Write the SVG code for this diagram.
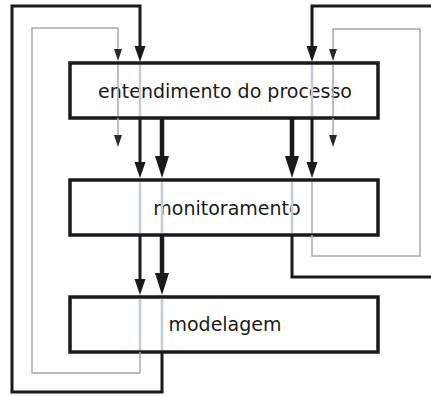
<svg xmlns="http://www.w3.org/2000/svg" width="431" height="396" viewBox="0 0 431 396">
  <style>
    .box { fill: #ffffff; stroke: #1a1a1a; stroke-width: 3.5; }
    .label { font-family: "DejaVu Sans", Verdana, sans-serif; font-size: 19px; fill: #1a1a1a; text-anchor: middle; }
    .black { fill: none; stroke: #1a1a1a; stroke-width: 3; }
    .heavy { fill: none; stroke: #1a1a1a; stroke-width: 4.5; }
    .gray { fill: none; stroke: #a8a8a8; stroke-width: 1.5; }
    .through { fill: none; stroke: #c3cbd6; stroke-width: 2.5; }
    .headB { fill: #1a1a1a; }
    .headG { fill: #2a2a2a; }
  </style>
  <defs>
    <!-- arrowheads with tip at origin, pointing down -->
    <path id="hGray" d="M0 0 L-4 -12 L4 -12 Z"/>
    <path id="hBlack" d="M0 0 L-5.5 -16 L5.5 -16 Z"/>
    <path id="hHeavy" d="M0 0 L-7 -22 L7 -22 Z"/>
  </defs>

  <g id="nodes">
    <g id="entendimento">
      <rect class="box" x="70" y="63" width="308" height="55"/>
      <text class="label" x="225" y="98">entendimento do processo</text>
    </g>
    <g id="monitoramento">
      <rect class="box" x="70" y="180" width="308" height="55"/>
      <text class="label" x="227" y="215">monitoramento</text>
    </g>
    <g id="modelagem">
      <rect class="box" x="70" y="297" width="308" height="55"/>
      <text class="label" x="225" y="331">modelagem</text>
    </g>
  </g>

  <g id="connectors">
    <!-- lines seen passing through the boxes -->
    <path class="through" d="M140 65 V116 M162 182 V233 M140 182 V233 M162 299 V350 M140 299 V350 M312 65 V116 M292 182 V233"/>
    <path class="gray" d="M118 65 V116 M333 65 V116 M312 182 V233"/>

    <!-- left outer feedback loops -->
    <path class="black" d="M162 352 V392 H12 V6 H140 V50"/>
    <path class="gray" d="M140 352 V373 H32 V28 H118 V50"/>
    <use href="#hBlack" class="headB" x="140" y="62"/>
    <use href="#hGray" class="headG" x="118" y="61"/>

    <!-- right outer feedback loops -->
    <path class="black" d="M431 6 H312 V50"/>
    <path class="black" d="M292 235 V277 H431"/>
    <path class="gray" d="M312 235 V256 H420 V29 H333 V50"/>
    <use href="#hBlack" class="headB" x="312" y="62"/>
    <use href="#hGray" class="headG" x="333" y="61"/>

    <!-- entendimento -> monitoramento -->
    <path class="gray" d="M118 118 V137"/>
    <use href="#hGray" class="headG" x="118" y="147"/>
    <path class="black" d="M140 118 V165"/>
    <use href="#hBlack" class="headB" x="140" y="178"/>
    <path class="heavy" d="M162 118 V160"/>
    <use href="#hHeavy" class="headB" x="162" y="178"/>

    <path class="heavy" d="M292 118 V160"/>
    <use href="#hHeavy" class="headB" x="292" y="178"/>
    <path class="black" d="M312 118 V165"/>
    <use href="#hBlack" class="headB" x="312" y="178"/>
    <path class="gray" d="M333 118 V137"/>
    <use href="#hGray" class="headG" x="333" y="147"/>

    <!-- monitoramento -> modelagem -->
    <path class="black" d="M140 235 V282"/>
    <use href="#hBlack" class="headB" x="140" y="295"/>
    <path class="heavy" d="M162 235 V277"/>
    <use href="#hHeavy" class="headB" x="162" y="295"/>
  </g>
</svg>
